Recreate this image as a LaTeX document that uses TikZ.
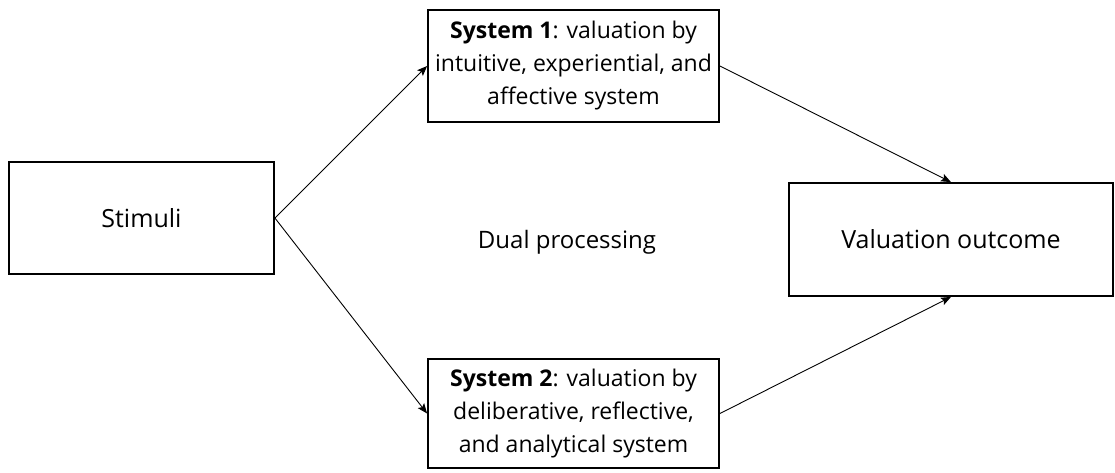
\documentclass[tikz,border=0pt]{standalone}
\usepackage{fontspec}
\setmainfont{Open Sans}
\usetikzlibrary{arrows.meta}
\begin{document}
\begin{tikzpicture}[x=1pt,y=-1pt,
  box/.style={draw=black, line width=1.8pt, rectangle, inner sep=0pt, align=center,
              font=\fontsize{25}{33}\selectfont},
  sysbox/.style={box, minimum width=291pt, font=\fontsize{23}{33}\selectfont},
  link/.style={line width=0.9pt, -{Stealth[length=10pt,width=8pt,inset=2pt]}},
  caption/.style={font=\fontsize{24}{33}\selectfont, inner sep=0pt}]
  \useasboundingbox (0,0) rectangle (1115,472);

  \node[box, minimum width=265pt, minimum height=112pt] (stim) at (141.5,218) {Stimuli};
  \node[sysbox, minimum height=112pt] (sys1) at (573.5,66)
    {\textbf{System 1}: valuation by\\intuitive, experiential, and\\affective system};
  \node[sysbox, minimum height=109pt] (sys2) at (573.5,413.5)
    {\textbf{System 2}: valuation by\\deliberative, reflective,\\and analytical system};
  \node[box, minimum width=324pt, minimum height=113pt] (out) at (951,239.5) {Valuation outcome};
  \node[caption] (dual) at (567,242) {Dual processing};

  \draw[link] (stim.east) -- (sys1.west);
  \draw[link] (stim.east) -- (sys2.west);
  \draw[link] (sys1.east) -- (out.north);
  \draw[link] (sys2.east) -- (out.south);
\end{tikzpicture}
\end{document}
